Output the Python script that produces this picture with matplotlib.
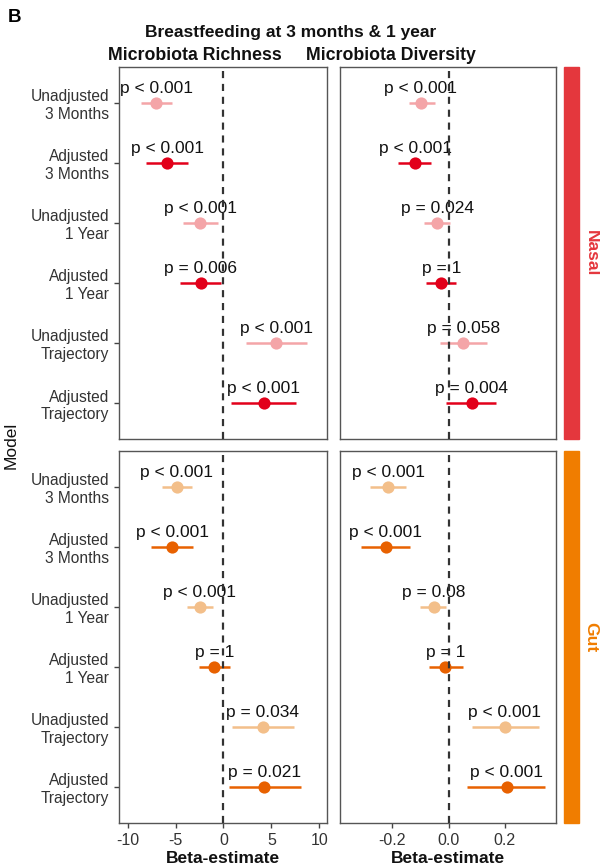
import matplotlib
matplotlib.use("Agg")
import matplotlib.pyplot as plt
from matplotlib.patches import Rectangle

plt.rcParams['font.family'] = ['Liberation Sans', 'DejaVu Sans']

models = ["Unadjusted\n3 Months", "Adjusted\n3 Months", "Unadjusted\n1 Year",
          "Adjusted\n1 Year", "Unadjusted\nTrajectory", "Adjusted\nTrajectory"]
adjusted = [False, True, False, True, False, True]

nasal_rich_est = [-7.0, -5.85, -2.43, -2.36, 5.5, 4.2]
nasal_rich_lo = [-8.6, -8.1, -4.2, -4.5, 2.33, 0.74]
nasal_rich_hi = [-5.4, -3.7, -0.56, -0.24, 8.75, 7.6]
nasal_rich_p = ["p < 0.001", "p < 0.001", "p < 0.001", "p = 0.006", "p < 0.001", "p < 0.001"]

nasal_div_est = [-0.098, -0.118, -0.040, -0.026, 0.052, 0.082]
nasal_div_lo = [-0.142, -0.181, -0.086, -0.080, -0.029, -0.008]
nasal_div_hi = [-0.050, -0.062, 0.004, 0.027, 0.136, 0.170]
nasal_div_p = ["p < 0.001", "p < 0.001", "p = 0.024", "p = 1", "p = 0.058", "p = 0.004"]

gut_rich_est = [-4.9, -5.36, -2.5, -0.95, 4.1, 4.27]
gut_rich_lo = [-6.4, -7.55, -3.78, -2.6, 0.85, 0.56]
gut_rich_hi = [-3.3, -3.14, -1.13, 0.67, 7.37, 8.04]
gut_rich_p = ["p < 0.001", "p < 0.001", "p < 0.001", "p = 1", "p = 0.034", "p = 0.021"]

gut_div_est = [-0.215, -0.223, -0.052, -0.011, 0.200, 0.206]
gut_div_lo = [-0.279, -0.311, -0.100, -0.070, 0.082, 0.067]
gut_div_hi = [-0.150, -0.138, -0.008, 0.051, 0.322, 0.344]
gut_div_p = ["p < 0.001", "p < 0.001", "p = 0.08", "p = 1", "p < 0.001", "p < 0.001"]

rich_ticks = [-10, -5, 0, 5, 10]
rich_ticklabels = ["-10", "-5", "0", "5", "10"]
div_ticks = [-0.2, 0.0, 0.2]
div_ticklabels = ["-0.2", "0.0", "0.2"]

site_names = ["Nasal", "Gut"]
site_colors = {"Nasal": "#E4373D", "Gut": "#F07D00"}
point_colors = {"Nasal": ("#F4A5A8", "#E2001A"), "Gut": ("#F3BF8A", "#E86100")}

W, H = 600, 867
fig = plt.figure(figsize=(6.0, 8.67), dpi=100)

def fx(px):
    return px / W

def fy(py):
    return 1 - py / H

col_x = [(119, 327), (340, 556)]
row_y = [(67, 439), (451, 823)]
xlims = [(-10.9, 10.8), (-0.386, 0.382)]

panels = {
    ("Nasal", 0): (nasal_rich_est, nasal_rich_lo, nasal_rich_hi, nasal_rich_p),
    ("Nasal", 1): (nasal_div_est, nasal_div_lo, nasal_div_hi, nasal_div_p),
    ("Gut", 0): (gut_rich_est, gut_rich_lo, gut_rich_hi, gut_rich_p),
    ("Gut", 1): (gut_div_est, gut_div_lo, gut_div_hi, gut_div_p),
}

ypos = list(range(1, len(models) + 1))
border = "#555555"

for r, site in enumerate(site_names):
    y0, y1 = row_y[r]
    for c in range(2):
        x0, x1 = col_x[c]
        ax = fig.add_axes([fx(x0), fy(y1), fx(x1 - x0), (y1 - y0) / H])
        est, lo, hi, pv = panels[(site, c)]
        for i, y in enumerate(ypos):
            col = point_colors[site][1 if adjusted[i] else 0]
            ax.plot([lo[i], hi[i]], [y, y], color=col, lw=1.8, solid_capstyle='butt', zorder=3)
            ax.plot(est[i], y, 'o', color=col, ms=8.8, mec='none', zorder=4)
            ax.annotate(pv[i], (est[i], y), xytext=(0, 7.0), textcoords='offset points',
                        ha='center', va='baseline', fontsize=12.5, color='#111111', zorder=2)
        ax.axvline(0, color='#333333', lw=1.6, ls=(0, (3.2, 2.6)), zorder=5)
        ax.set_xlim(*xlims[c])
        ax.set_ylim(len(models) + 0.6, 0.4)
        for s in ax.spines.values():
            s.set_color(border)
            s.set_linewidth(1.0)
        ax.tick_params(colors='#444444', length=3.5, width=1.0, labelcolor='#333333', labelsize=11.5)
        if c == 0:
            ax.set_yticks(ypos)
            ax.set_yticklabels(models, fontsize=11.2, linespacing=1.2, color='#333333')
        else:
            ax.set_yticks([])
        if r == 1:
            if c == 0:
                ax.set_xticks(rich_ticks)
                ax.set_xticklabels(rich_ticklabels)
            else:
                ax.set_xticks(div_ticks)
                ax.set_xticklabels(div_ticklabels)
            ax.tick_params(axis='x', pad=4)
            ax.set_xlabel("Beta-estimate", fontsize=12.5, fontweight='bold', color='#111111', labelpad=2)
        else:
            ax.set_xticks([])
    # strip
    fig.patches.append(Rectangle((fx(564), fy(y1)), fx(15), (y1 - y0) / H,
                                 transform=fig.transFigure, color=site_colors[site], zorder=1))
    fig.text(fx(591), fy((y0 + y1) / 2), site, rotation=270, ha='center', va='center',
             fontsize=12.5, fontweight='bold', color=site_colors[site])

fig.text(fx(8), fy(18), "B", fontsize=13.5, fontweight='bold', ha='left', va='center')
fig.text(fx(291), fy(33), "Breastfeeding at 3 months & 1 year", fontsize=12.5,
         fontweight='bold', ha='center', va='center', color='#111111')
fig.text(fx(195), fy(55), "Microbiota Richness", fontsize=12.8, fontweight='bold',
         ha='center', va='center', color='#111111')
fig.text(fx(391), fy(55), "Microbiota Diversity", fontsize=12.8, fontweight='bold',
         ha='center', va='center', color='#111111')
fig.text(fx(11), fy(445), "Model", rotation=90, fontsize=12.5, ha='center', va='center',
         color='#111111')

fig.savefig("out.png", dpi=100)
